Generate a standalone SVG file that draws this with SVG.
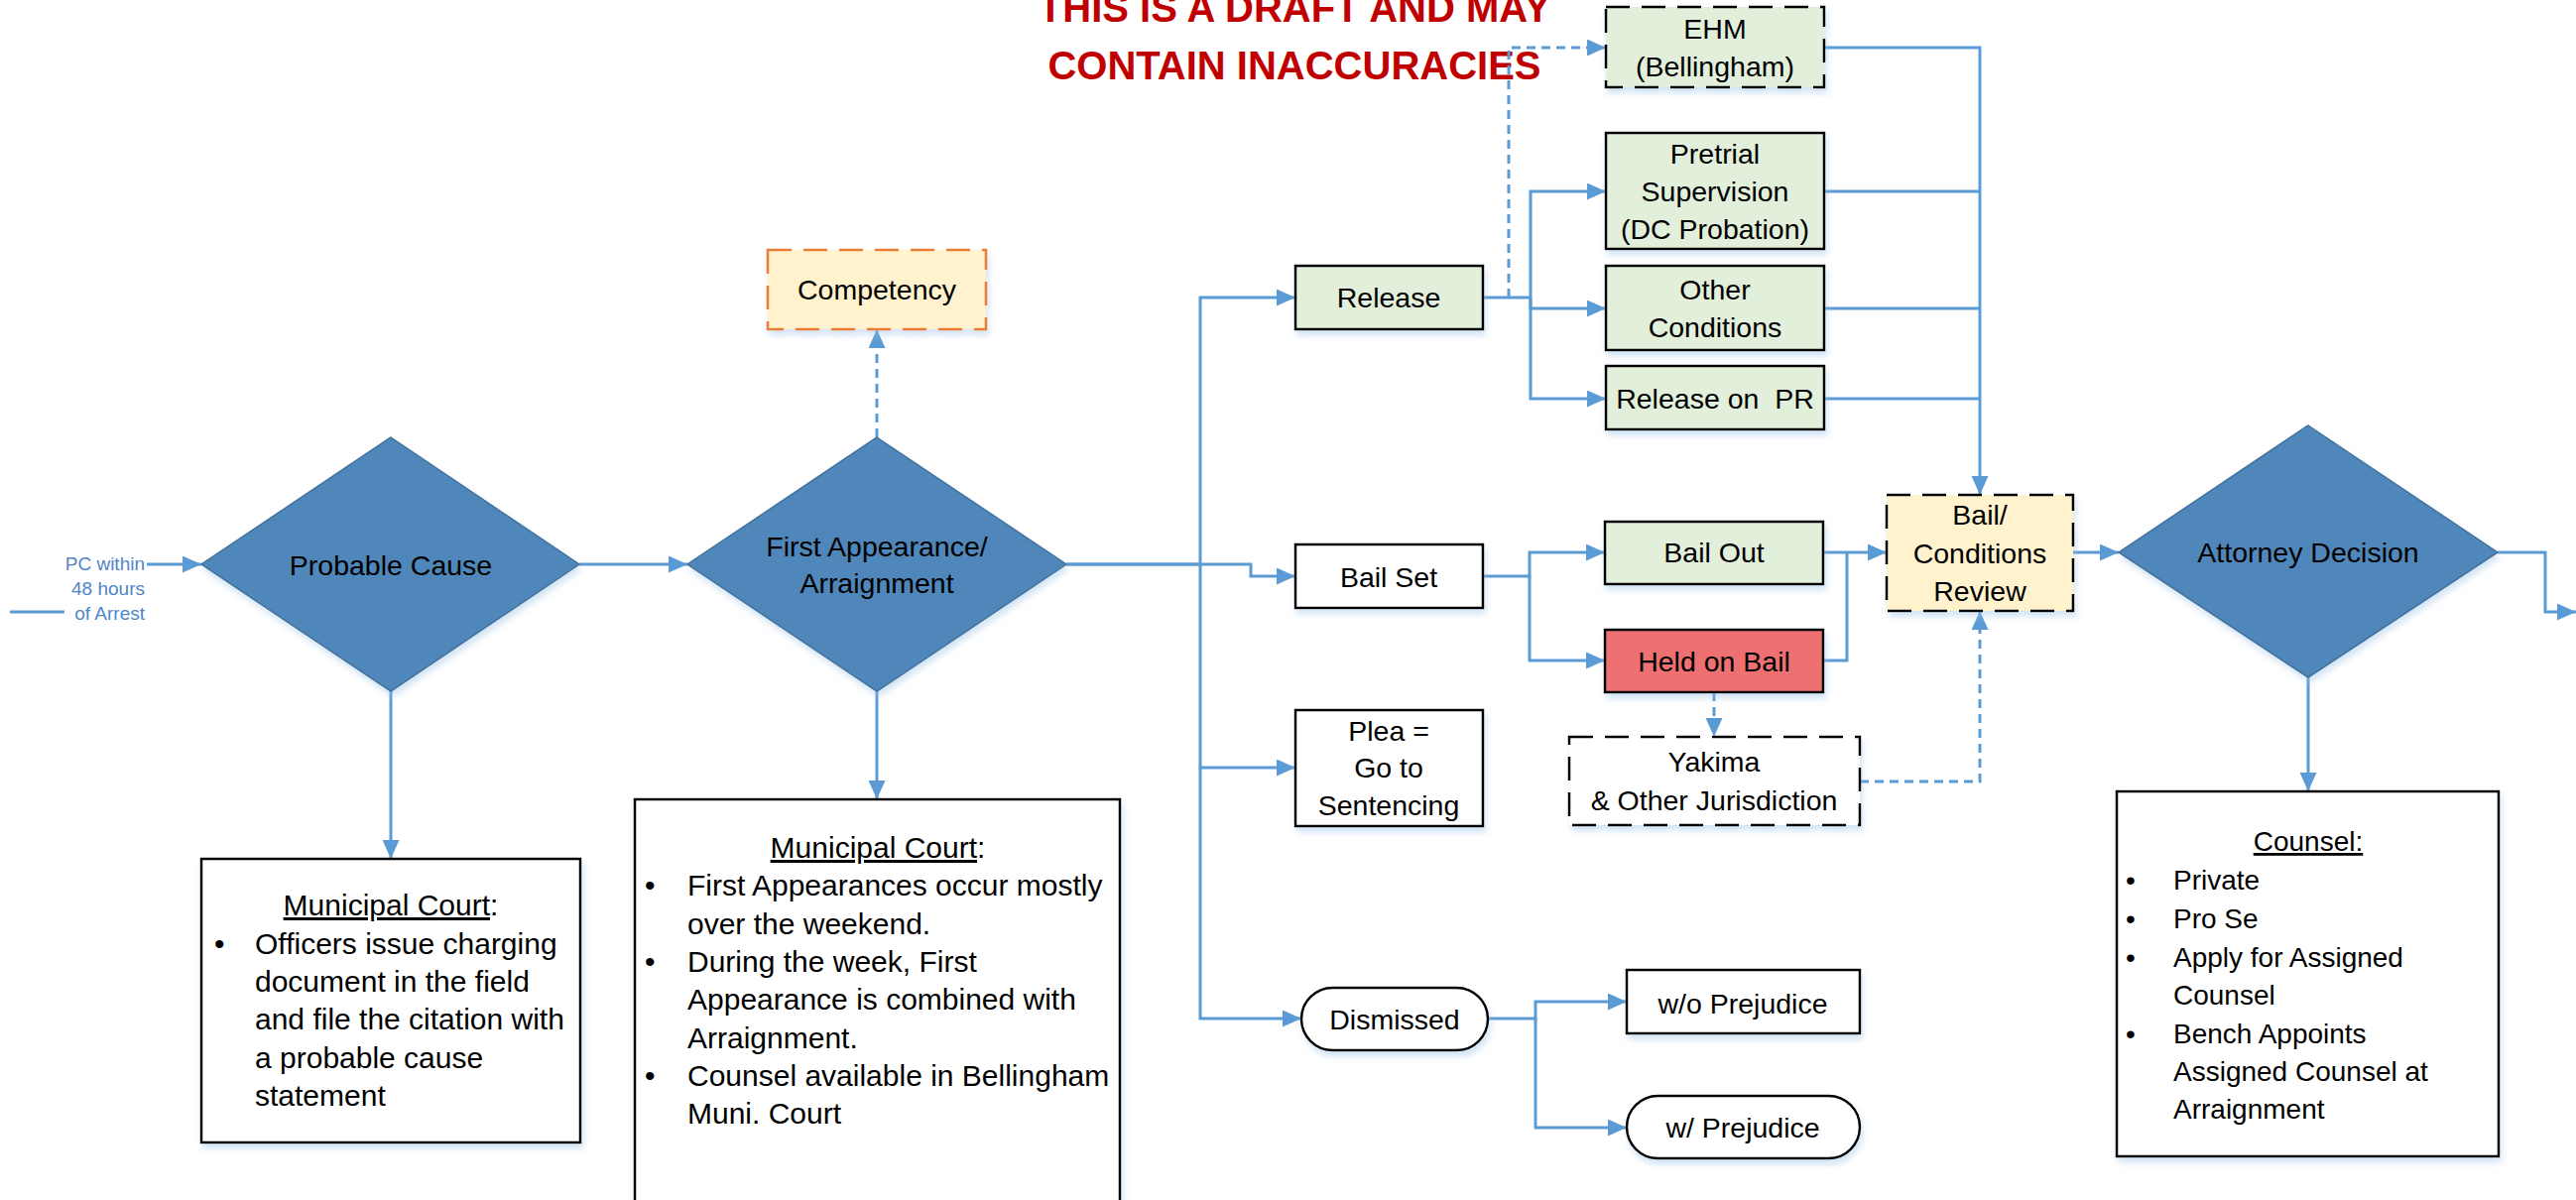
<svg xmlns="http://www.w3.org/2000/svg" width="2597" height="1210" viewBox="0 0 2597 1210">
<style>
text{font-family:"Liberation Sans",Arial,sans-serif;fill:#000}
.lbl{font-size:28.5px;text-anchor:middle}
.body{font-size:30px}
.cn{font-size:28px}
.title{font-size:40px;font-weight:bold;fill:#C00000;text-anchor:middle}
.pc{font-size:19px;fill:#4F86C6;text-anchor:end}
.dia{fill:#4F87BA;stroke:#41719C;stroke-width:1.5}
.box{stroke:#000;stroke-width:2.5}
.green{fill:#E2EFDA}
.white{fill:#fff}
.yel{fill:#FFF2CC}
.red{fill:#EF6F6F}
.dash{stroke-dasharray:24 12}
.conn path,.conn line{fill:none;stroke:#5B9BD5;stroke-width:3}
.conn .d{stroke-dasharray:9 6}
.arr{marker-end:url(#ah)}
</style>
<defs>
<marker id="ah" viewBox="0 0 19 17" refX="19" refY="8.5" markerWidth="19" markerHeight="17" markerUnits="userSpaceOnUse" orient="auto">
<path d="M0,0 L19,8.5 L0,17 z" fill="#5B9BD5"/>
</marker>
<filter id="sh" x="-10%" y="-10%" width="130%" height="140%">
<feDropShadow dx="2" dy="5" stdDeviation="3" flood-color="#9DC3E6" flood-opacity="0.45"/>
</filter>
</defs>
<rect width="2597" height="1210" fill="#fff"/>

<g id="title">
<text class="title" x="1305" y="22">THIS IS A DRAFT AND MAY</text>
<text class="title" x="1305" y="80">CONTAIN INACCURACIES</text>
</g>

<g class="conn" id="connectors">
<line x1="10" y1="617" x2="65" y2="617"/>
<path class="arr" d="M148,569 H203"/>
<path class="arr" d="M584,569 H693"/>
<path class="arr" d="M394,697 V866"/>
<path class="arr d" d="M884,441 V332"/>
<path class="arr" d="M884,697 V806"/>
<path class="arr" d="M1075,569 H1210 V300 H1306"/>
<path class="arr" d="M1075,569 H1261 V581 H1306"/>
<path class="arr" d="M1210,569 V774 H1306"/>
<path class="arr" d="M1210,774 V1027 H1312"/>
<path d="M1495,300 H1543"/>
<path class="arr d" d="M1521,300 V48 H1619"/>
<path class="arr" d="M1543,300 V193 H1619"/>
<path class="arr" d="M1543,300 V311 H1619"/>
<path class="arr" d="M1543,300 V402 H1619"/>
<path class="arr" d="M1839,48 H1996 V499"/>
<path d="M1839,193 H1996"/>
<path d="M1839,311 H1996"/>
<path d="M1839,402 H1996"/>
<path class="arr" d="M1495,581 H1542 V557 H1618"/>
<path class="arr" d="M1542,581 V666 H1618"/>
<path class="arr" d="M1838,557 H1902"/>
<path d="M1838,666 H1862 V557"/>
<path class="arr d" d="M1728,698 V743"/>
<path class="arr d" d="M1875,788 H1996 V616"/>
<path class="arr" d="M2090,557 H2136"/>
<path class="arr" d="M2518,557 H2566 V617 H2597"/>
<path class="arr" d="M2327,683 V798"/>
<path class="arr" d="M1500,1027 H1548 V1010 H1640"/>
<path class="arr" d="M1548,1027 V1137 H1640"/>
</g>

<g id="pc-label">
<text class="pc" x="146" y="575">PC within</text>
<text class="pc" x="146" y="600">48 hours</text>
<text class="pc" x="146" y="625">of Arrest</text>
</g>

<g id="probable-cause">
<polygon class="dia" filter="url(#sh)" points="394,441 584,569 394,697 203,569"/>
<text class="lbl" x="394" y="580">Probable Cause</text>
</g>

<g id="first-appearance">
<polygon class="dia" filter="url(#sh)" points="884,441 1075,569 884,697 693,569"/>
<text class="lbl" x="884" y="561">First Appearance/</text>
<text class="lbl" x="884" y="598">Arraignment</text>
</g>

<g id="competency">
<rect class="yel dash" filter="url(#sh)" x="774" y="252" width="220" height="80" stroke="#ED7D31" stroke-width="2.5"/>
<text class="lbl" x="884" y="302">Competency</text>
</g>

<g id="muni1">
<rect class="box white" filter="url(#sh)" x="203" y="866" width="382" height="286"/>
<text class="body" x="394" y="923" text-anchor="middle"><tspan text-decoration="underline">Municipal Court</tspan>:</text>
<text class="body" x="216" y="962">•</text>
<text class="body" x="257" y="962">Officers issue charging</text>
<text class="body" x="257" y="1000">document in the field</text>
<text class="body" x="257" y="1038">and file the citation with</text>
<text class="body" x="257" y="1077">a probable cause</text>
<text class="body" x="257" y="1115">statement</text>
</g>

<g id="muni2">
<rect class="box white" filter="url(#sh)" x="640" y="806" width="489" height="420"/>
<text class="body" x="885" y="865" text-anchor="middle"><tspan text-decoration="underline">Municipal Court</tspan>:</text>
<text class="body" x="650" y="903">•</text>
<text class="body" x="693" y="903">First Appearances occur mostly</text>
<text class="body" x="693" y="942">over the weekend.</text>
<text class="body" x="650" y="980">•</text>
<text class="body" x="693" y="980">During the week, First</text>
<text class="body" x="693" y="1018">Appearance is combined with</text>
<text class="body" x="693" y="1057">Arraignment.</text>
<text class="body" x="650" y="1095">•</text>
<text class="body" x="693" y="1095">Counsel available in Bellingham</text>
<text class="body" x="693" y="1133">Muni. Court</text>
</g>

<g id="release">
<rect class="box green" filter="url(#sh)" x="1306" y="268" width="189" height="64"/>
<text class="lbl" x="1400" y="310">Release</text>
</g>

<g id="bail-set">
<rect class="box white" filter="url(#sh)" x="1306" y="549" width="189" height="64"/>
<text class="lbl" x="1400" y="592">Bail Set</text>
</g>

<g id="plea">
<rect class="box white" filter="url(#sh)" x="1306" y="716" width="189" height="117"/>
<text class="lbl" x="1400" y="747">Plea =</text>
<text class="lbl" x="1400" y="784">Go to</text>
<text class="lbl" x="1400" y="822">Sentencing</text>
</g>

<g id="dismissed">
<rect class="box white" filter="url(#sh)" x="1312" y="996" width="188" height="63" rx="31.5"/>
<text class="lbl" x="1406" y="1038">Dismissed</text>
</g>

<g id="ehm">
<rect class="box green dash" filter="url(#sh)" x="1619" y="7" width="220" height="81"/>
<text class="lbl" x="1729" y="39">EHM</text>
<text class="lbl" x="1729" y="77">(Bellingham)</text>
</g>

<g id="pretrial">
<rect class="box green" filter="url(#sh)" x="1619" y="134" width="220" height="117"/>
<text class="lbl" x="1729" y="165">Pretrial</text>
<text class="lbl" x="1729" y="203">Supervision</text>
<text class="lbl" x="1729" y="241">(DC Probation)</text>
</g>

<g id="other-conditions">
<rect class="box green" filter="url(#sh)" x="1619" y="268" width="220" height="85"/>
<text class="lbl" x="1729" y="302">Other</text>
<text class="lbl" x="1729" y="340">Conditions</text>
</g>

<g id="release-pr">
<rect class="box green" filter="url(#sh)" x="1619" y="369" width="220" height="64"/>
<text class="lbl" x="1729" y="412" xml:space="preserve">Release on  PR</text>
</g>

<g id="bail-out">
<rect class="box green" filter="url(#sh)" x="1618" y="526" width="220" height="63"/>
<text class="lbl" x="1728" y="567">Bail Out</text>
</g>

<g id="held-on-bail">
<rect class="box red" filter="url(#sh)" x="1618" y="635" width="220" height="63"/>
<text class="lbl" x="1728" y="677">Held on Bail</text>
</g>

<g id="yakima">
<rect class="box white dash" filter="url(#sh)" x="1582" y="743" width="293" height="89"/>
<text class="lbl" x="1728" y="778">Yakima</text>
<text class="lbl" x="1728" y="817">&amp; Other Jurisdiction</text>
</g>

<g id="wo-prejudice">
<rect class="box white" filter="url(#sh)" x="1640" y="978" width="235" height="64"/>
<text class="lbl" x="1757" y="1022">w/o Prejudice</text>
</g>

<g id="w-prejudice">
<rect class="box white" filter="url(#sh)" x="1640" y="1105" width="235" height="63" rx="31.5"/>
<text class="lbl" x="1757" y="1147">w/ Prejudice</text>
</g>

<g id="bail-review">
<rect class="box yel dash" filter="url(#sh)" x="1902" y="499" width="188" height="117"/>
<text class="lbl" x="1996" y="529">Bail/</text>
<text class="lbl" x="1996" y="568">Conditions</text>
<text class="lbl" x="1996" y="606">Review</text>
</g>

<g id="attorney-decision">
<polygon class="dia" filter="url(#sh)" points="2327,429 2518,557 2327,683 2136,557"/>
<text class="lbl" x="2327" y="567">Attorney Decision</text>
</g>

<g id="counsel">
<rect class="box white" filter="url(#sh)" x="2134" y="798" width="385" height="368"/>
<text class="cn" x="2327" y="858" text-anchor="middle" text-decoration="underline">Counsel:</text>
<text class="cn" x="2143" y="897">•</text>
<text class="cn" x="2191" y="897">Private</text>
<text class="cn" x="2143" y="936">•</text>
<text class="cn" x="2191" y="936">Pro Se</text>
<text class="cn" x="2143" y="975">•</text>
<text class="cn" x="2191" y="975">Apply for Assigned</text>
<text class="cn" x="2191" y="1013">Counsel</text>
<text class="cn" x="2143" y="1052">•</text>
<text class="cn" x="2191" y="1052">Bench Appoints</text>
<text class="cn" x="2191" y="1090">Assigned Counsel at</text>
<text class="cn" x="2191" y="1128">Arraignment</text>
</g>
</svg>
